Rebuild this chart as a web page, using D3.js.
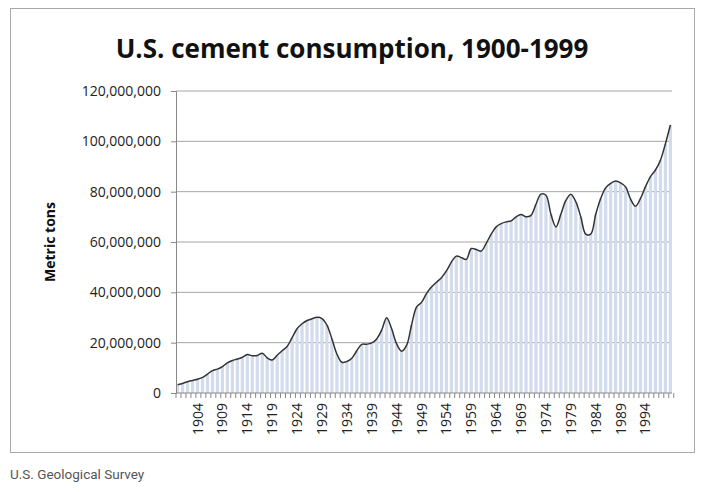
<!DOCTYPE html>
<html><head><meta charset="utf-8">
<script src="https://cdn.jsdelivr.net/npm/d3@7"></script>
<style>body{margin:0;background:#fff;font-family:"Open Sans",sans-serif}</style>
</head><body>
<svg id="chart" width="705" height="492"></svg>
<script>
// consumption in millions of metric tons, 1900-1999
const years = d3.range(1900, 2000);
const tons = [3.3,3.8,4.5,5.0,5.5,6.2,7.5,8.9,9.5,10.5,
  12.0,12.9,13.5,14.2,15.3,14.8,14.9,15.8,14.0,13.1,
  15.0,16.8,18.5,22.0,25.5,27.5,28.8,29.5,30.1,29.6,
  27.0,21.5,15.5,12.2,12.5,13.8,16.8,19.3,19.4,19.9,
  21.5,25.0,29.9,25.5,19.5,16.6,18.9,27.0,34.1,36.0,
  39.5,42.1,44.0,45.8,48.5,52.0,54.4,53.8,53.1,57.4,
  57.0,56.4,59.5,63.1,66.0,67.3,68.0,68.4,70.0,70.9,
  70.0,70.6,75.0,79.0,78.6,71.0,66.0,71.0,76.5,79.0,
  76.0,70.0,63.1,63.1,71.0,77.3,81.5,83.3,84.2,83.5,
  81.9,77.0,74.2,77.3,82.0,86.0,88.6,92.5,99.0,106.5];
const yTicks = [0,20,40,60,80,100,120];
const labelYears = [1904,1909,1914,1919,1924,1929,1934,1939,1944,1949,
  1954,1959,1964,1969,1974,1979,1984,1989,1994];

const svg = d3.select('#chart');
svg.append('rect').attr('x', 10.5).attr('y', 8.5).attr('width', 684).attr('height', 444)
  .attr('fill', '#fff').attr('stroke', '#aaa');

const x = d3.scaleBand().domain(years).range([176, 672]).paddingInner(0.35);
const y = d3.scaleLinear().domain([0, 120]).range([393, 91]);

// grid
svg.append('g').selectAll('line').data(yTicks.slice(1)).join('line')
  .attr('x1', 176).attr('x2', 672).attr('y1', d => y(d)).attr('y2', d => y(d))
  .attr('stroke', '#a6a6a6').attr('stroke-width', 1);

// bars
svg.append('g').selectAll('rect').data(years).join('rect')
  .attr('x', d => x(d)).attr('width', x.bandwidth())
  .attr('y', (d, i) => y(tons[i])).attr('height', (d, i) => y(0) - y(tons[i]))
  .attr('fill', '#d3dcec');

// line
const line = d3.line().x((d, i) => x(years[i]) + x.bandwidth() / 2).y(d => y(d))
  .curve(d3.curveCatmullRom);
svg.append('path').datum(tons).attr('d', line)
  .attr('fill', 'none').attr('stroke', '#333').attr('stroke-width', 1.5);

// y axis
const yAxis = svg.append('g').attr('transform', 'translate(176,0)')
  .call(d3.axisLeft(y).tickValues(yTicks).tickSize(5).tickPadding(10)
    .tickFormat(d => d3.format(',')(d * 1e6)));
yAxis.selectAll('path,line').attr('stroke', '#888');
yAxis.selectAll('text').attr('font-size', 14).attr('fill', '#222').attr('font-family', '"Open Sans",sans-serif');

// x axis
const xAxis = svg.append('g').attr('transform', 'translate(0,393)');
xAxis.append('line').attr('x1', 176).attr('x2', 672).attr('stroke', '#888');
xAxis.selectAll('line.t').data(d3.range(101)).join('line').attr('class', 't')
  .attr('x1', i => 176 + i * x.step()).attr('x2', i => 176 + i * x.step())
  .attr('y1', 0).attr('y2', 5).attr('stroke', '#888');
xAxis.selectAll('text').data(labelYears).join('text')
  .attr('transform', d => `translate(${x(d) + x.bandwidth() / 2 + 5},10) rotate(-90)`)
  .attr('text-anchor', 'end').attr('font-size', 14).attr('fill', '#222').text(d => d);

// titles
svg.append('text').attr('x', 352).attr('y', 58).attr('text-anchor', 'middle')
  .attr('font-size', 26).attr('font-weight', 'bold').attr('fill', '#111')
  .text('U.S. cement consumption, 1900-1999');
svg.append('text').attr('transform', 'translate(55,242) rotate(-90)').attr('text-anchor', 'middle')
  .attr('font-size', 14).attr('font-weight', 'bold').attr('fill', '#111').text('Metric tons');
svg.append('text').attr('x', 10).attr('y', 479).attr('font-size', 13.5).attr('fill', '#555')
  .attr('font-family', 'Roboto,sans-serif').text('U.S. Geological Survey');
</script>
</body></html>
